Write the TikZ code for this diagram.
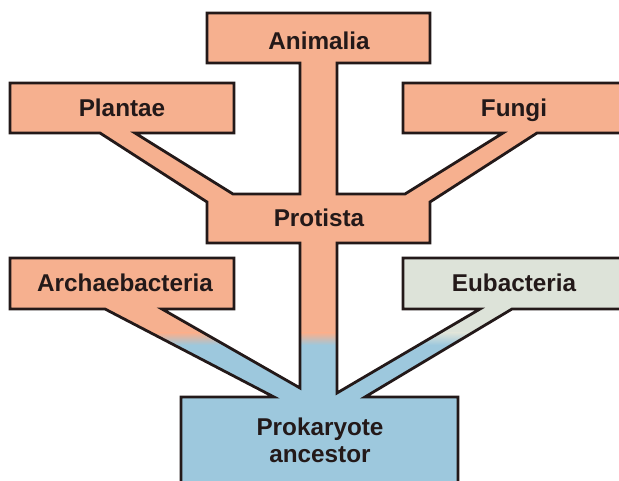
\documentclass[tikz,border=0pt]{standalone}
\usepackage{fontspec}
\setmainfont{Liberation Sans}

\definecolor{salmon}{RGB}{246,176,143}
\definecolor{skyblue}{RGB}{157,200,221}
\definecolor{sage}{RGB}{221,227,217}
\definecolor{inkdark}{RGB}{35,25,25}

\begin{document}
\begin{tikzpicture}[x=1pt,y=-1pt,line join=miter,
  lbl/.style={font=\fontsize{24.3}{27}\selectfont\bfseries,text=inkdark,
    inner sep=0pt,anchor=base,align=center},
  outline/.style={draw=inkdark,line width=2.8pt}]

  % ---- reference values (pixels, measured down from the top) ----
  % Horizontal
  \def\boxLl{10}   \def\boxLr{234}   % plantae / archaebacteria boxes
  \def\boxRl{403}  \def\boxRr{630}   % fungi / eubacteria boxes (run off the page)
  \def\midl{207}   \def\midr{430}    % animalia / protista boxes
  \def\steml{300}  \def\stemr{337}   % trunk
  \def\ancL{181}   \def\ancR{458}    % ancestor box
  % Vertical
  \def\aniT{13}    \def\aniB{63}
  \def\rowT{83}    \def\rowB{133}    % plantae / fungi
  \def\proT{194}   \def\proB{243}    % protista
  \def\bacT{258}   \def\bacB{309}    % bacteria row
  \def\ancT{397}
  \def\fadeT{333}  \def\fadeB{345}   % colour change band

  \useasboundingbox (0,0) rectangle (619,481);
  \clip (0,0) rectangle (619,481);

  % ---- whole tree as one outline ----
  \def\treeoutline{(\midl,\aniT) -- (\midr,\aniT) -- (\midr,\aniB) -- (\stemr,\aniB)
    -- (\stemr,\proT) -- (405,\proT) -- (503,\rowB) -- (\boxRl,\rowB) -- (\boxRl,\rowT)
    -- (\boxRr,\rowT) -- (\boxRr,\rowB) -- (537,\rowB) -- (\midr,202) -- (\midr,\proB)
    -- (\stemr,\proB) -- (\stemr,393) -- (480,\bacB) -- (\boxRl,\bacB) -- (\boxRl,\bacT)
    -- (\boxRr,\bacT) -- (\boxRr,\bacB) -- (512,\bacB) -- (365,\ancT) -- (\ancR,\ancT)
    -- (\ancR,500) -- (\ancL,500) -- (\ancL,\ancT) -- (274,\ancT) -- (105,\bacB)
    -- (\boxLl,\bacB) -- (\boxLl,\bacT) -- (\boxLr,\bacT) -- (\boxLr,\bacB) -- (162,\bacB)
    -- (\steml,388) -- (\steml,\proB) -- (\midl,\proB) -- (\midl,202) -- (100,\rowB)
    -- (\boxLl,\rowB) -- (\boxLl,\rowT) -- (\boxLr,\rowT) -- (\boxLr,\rowB) -- (135,\rowB)
    -- (233,\proT) -- (\steml,\proT) -- (\steml,\aniB) -- (\midl,\aniB) -- cycle}

  % ---- fills: eukaryotes salmon, ancestor blue, eubacteria sage ----
  \begin{scope}
    \clip \treeoutline;
    \fill[salmon] (0,0) rectangle (640,\fadeT);
    \shade[top color=salmon,bottom color=skyblue] (0,\fadeT) rectangle (640,\fadeB);
    \fill[skyblue] (0,\fadeB) rectangle (640,500);
    \fill[sage] (338,250) rectangle (640,\fadeT);
    \shade[top color=sage,bottom color=skyblue] (338,\fadeT) rectangle (640,\fadeB);
  \end{scope}
  \draw[outline] \treeoutline;

  % ---- labels ----
  \node[lbl] (animalia) at (319,50) {Animalia};
  \node[lbl] (plantae) at (122,117) {Plantae};
  \node[lbl] (fungi) at (514,117) {Fungi};
  \node[lbl] (protista) at (319,227) {Protista};
  \node[lbl] (archaea) at (125,292) {Archaebacteria};
  \node[lbl] (eubacteria) at (514,292) {Eubacteria};
  \node[lbl,anchor=center] (ancestor) at (320,440) {Prokaryote\\ancestor};

\end{tikzpicture}
\end{document}
